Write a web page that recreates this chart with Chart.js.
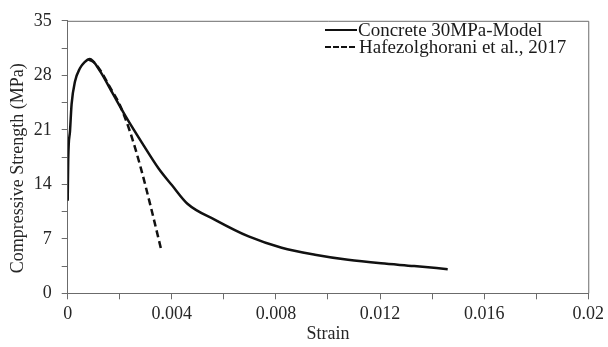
<!DOCTYPE html>
<html>
<head>
<meta charset="utf-8">
<script src="https://cdn.jsdelivr.net/npm/chart.js@4.4.1/dist/chart.umd.min.js"></script>
<style>
  body { margin: 0; background: #fff; }
  #wrap { position: relative; width: 608px; height: 347px; }
  #legend { position: absolute; left: 325px; top: 21px; font-family: "Liberation Serif", serif; font-size: 19px; color: #1a1a1a; }
  #legend .row { display: flex; align-items: center; height: 17.5px; white-space: nowrap; }
  #legend .sample { width: 32px; height: 0; margin-right: 1px; border-top: 2.5px solid #111; }
  #legend .sample.dash { border-top-style: dashed; width: 30px; margin-right: 4px; }
</style>
</head>
<body>
<div id="wrap">
  <canvas id="stress"></canvas>
  <div id="legend"></div>
</div>
<script>
// values
var strainModel = [0, 0.00002, 0.00009, 0.00015, 0.00028, 0.00047, 0.00065, 0.00085, 0.00123, 0.00174, 0.00225, 0.00288, 0.0035, 0.004, 0.0046, 0.00568, 0.00695, 0.00822, 0.0095, 0.01077, 0.01204, 0.01331, 0.0146];
var stressModel = [11.9, 17.2, 20.9, 24.3, 27.2, 28.9, 29.7, 30.1, 28.6, 25.6, 22.6, 19.2, 16.0, 13.9, 11.5, 9.4, 7.3, 5.85, 4.95, 4.3, 3.85, 3.5, 3.1];
var strainExp = [0.0008, 0.001, 0.0013, 0.0016, 0.002, 0.0024, 0.0028, 0.0032, 0.0036];
var stressExp = [30.0, 29.7, 28.4, 26.6, 24.2, 20.7, 16.2, 11.0, 5.5];
var labelModel = 'Concrete 30MPa-Model';
var labelExp = 'Hafezolghorani et al., 2017';

function pts(xs, ys) {
  return xs.map(function (x, i) { return { x: x, y: ys[i] }; });
}

var axisColor = '#6b6b6b';
var textColor = '#262626';
var font = { family: '"Liberation Serif", serif', size: 18 };

// box round the plot area
var frame = {
  id: 'frame',
  afterDraw: function (chart) {
    var a = chart.chartArea, c = chart.ctx;
    c.save();
    c.strokeStyle = axisColor;
    c.lineWidth = 1;
    c.beginPath();
    c.moveTo(a.left, a.top + 0.5);
    c.lineTo(a.right + 0.5, a.top + 0.5);
    c.lineTo(a.right + 0.5, a.bottom);
    c.stroke();
    c.restore();
  }
};

var chart = new Chart(document.getElementById('stress').getContext('2d'), {
  type: 'line',
  data: {
    datasets: [{
      label: labelModel,
      data: pts(strainModel, stressModel),
      borderColor: '#111',
      borderWidth: 2.5,
      pointRadius: 0,
      fill: false,
      cubicInterpolationMode: 'monotone'
    }, {
      label: labelExp,
      data: pts(strainExp, stressExp),
      borderColor: '#111',
      borderWidth: 2.5,
      borderDash: [7, 4],
      pointRadius: 0,
      fill: false,
      cubicInterpolationMode: 'monotone'
    }]
  },
  options: {
    responsive: true,
    maintainAspectRatio: false,
    animation: false,
    layout: { padding: { top: 15, right: 18, left: 0, bottom: 0 } },
    plugins: { legend: { display: false }, tooltip: { enabled: false } },
    scales: {
      x: {
        type: 'linear',
        min: 0,
        max: 0.02,
        afterFit: function (s) { s.height = 53.7; },
        grid: { drawOnChartArea: false, tickLength: 6, color: axisColor },
        border: { color: axisColor },
        ticks: {
          stepSize: 0.002,
          autoSkip: false,
          maxRotation: 0,
          padding: 4,
          color: textColor,
          font: font,
          callback: function (v, i) { return i % 2 === 0 ? String(Number(v.toFixed(3))) : ''; }
        },
        title: { display: true, text: 'Strain', color: textColor, font: font, padding: { top: 0, bottom: 2 } }
      },
      y: {
        min: 0,
        max: 35,
        afterFit: function (s) { s.width = 67.7; },
        grid: { drawOnChartArea: false, tickLength: 6, color: axisColor },
        border: { color: axisColor },
        ticks: {
          stepSize: 3.5,
          autoSkip: false,
          padding: 10,
          color: textColor,
          font: font,
          callback: function (v, i) { return i % 2 === 0 ? String(v) : ''; }
        },
        title: { display: true, text: 'Compressive Strength (MPa)     ', color: textColor, font: font, padding: { top: 7, bottom: 0 } }
      }
    }
  },
  plugins: [frame]
});

// legend inside the plot, built from the datasets
var legend = document.getElementById('legend');
chart.data.datasets.forEach(function (ds) {
  var row = document.createElement('div');
  row.className = 'row';
  var s = document.createElement('span');
  s.className = 'sample' + (ds.borderDash ? ' dash' : '');
  var t = document.createElement('span');
  t.textContent = ds.label;
  row.appendChild(s);
  row.appendChild(t);
  legend.appendChild(row);
});
</script>
</body>
</html>
